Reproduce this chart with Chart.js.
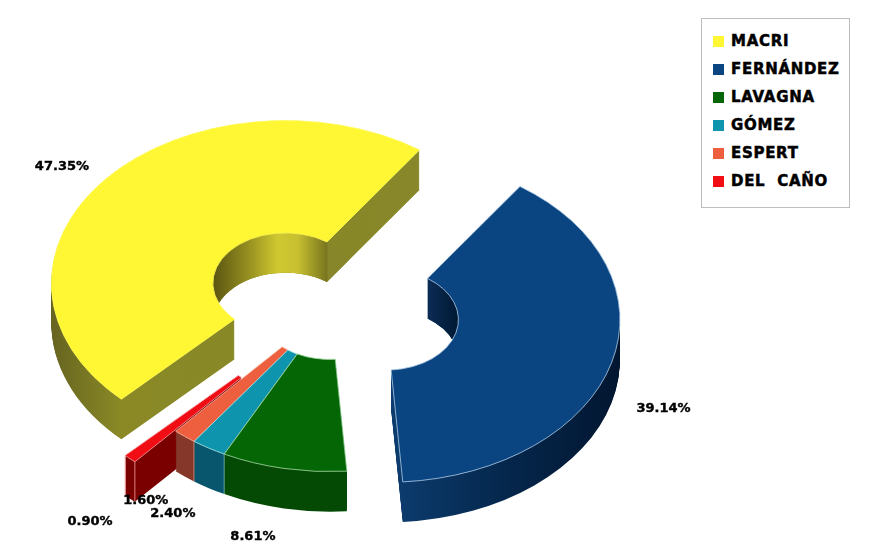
<!DOCTYPE html>
<html>
<head>
<meta charset="utf-8">
<script src="https://cdn.jsdelivr.net/npm/chart.js@4"></script>
<style>
  html, body { margin:0; padding:0; background:#fff; }
  #wrap { position:relative; width:874px; height:557px; overflow:hidden; }
  #legend { position:absolute; left:701px; top:18px; width:147px; height:188px; border:1px solid #bdbdbd; background:#fff; }
  .row { position:absolute; left:11px; height:16px; font:bold 15px "DejaVu Sans", sans-serif; line-height:16px; letter-spacing:.7px; color:#000; white-space:pre; -webkit-text-stroke:.5px #000; }
  .row i { display:inline-block; width:11px; height:11px; margin-right:7px; vertical-align:-1px; }
</style>
</head>
<body>
<div id="wrap">
  <canvas id="chart" width="874" height="557"></canvas>
  <div id="legend"></div>
</div>
<script>
const categories = ['MACRI', 'FERNÁNDEZ', 'LAVAGNA', 'GÓMEZ', 'ESPERT', 'DEL  CAÑO'];
const shares = [47.35, 39.14, 8.61, 2.40, 1.60, 0.90];

const faceColors = ['#fff733', '#0a4582', '#056605', '#0e95ad', '#ee5f3f', '#f00d14'];
const edgeColors = ['#fff955', '#a9c6e2', '#9fd6a0', '#a8e0e0', '#f5b09a', '#f59a9a'];
// wall shading, stops run across the slice's own width
const wallStops = [
  [[0, '#666420'], [.146, '#8a8926'], [1, '#87862a']],
  [[0, '#0d3e72'], [.53, '#0c3b6d'], [.74, '#05284e'], [1, '#021630']],
  [[0, '#044a04'], [1, '#044a04']],
  [[0, '#07566e'], [1, '#07566e']],
  [[0, '#85382a'], [1, '#85382a']],
  [[0, '#7a0000'], [1, '#7a0000']]
];
// wall of the hole, only the two big slices show one
const holeStops = [
  [[.346, '#5a5510'], [.419, '#948e20'], [.483, '#cfc830'], [.526, '#c8c030'], [.588, '#7a7620'], [.592, '#87862a'], [1, '#87862a']],
  [[.588, '#0c2c55'], [.65, '#001a35']]
];
const explode = [58, 58, 0, 0, 0, 60];
const labelNudge = [[-43.5, -13], [52, 46], [-31, 68], [-36, 65], [-39, 64], [-40, 63]];
const drawOrder = [0, 1, 5, 4, 3, 2];

const SQUASH = 0.695;
const DEPTH = 40;

function makeGrad(ctx, arc, stops) {
  const r = arc.outerRadius;
  const grad = ctx.createLinearGradient(arc.x - r, 0, arc.x + r, 0);
  stops.forEach(s => grad.addColorStop(s[0], s[1]));
  return grad;
}

function stackWalls(ctx, arc, orig, fill) {
  arc.options = Object.assign({}, orig, { backgroundColor: fill, borderWidth: 0 });
  for (let d = DEPTH; d > 0; d--) {
    ctx.save();
    ctx.translate(0, d / SQUASH);
    arc.draw(ctx);
    ctx.restore();
  }
  arc.options = orig;
}

function drawSlice(ctx, arc, i) {
  const mid = (arc.startAngle + arc.endAngle) / 2;
  const orig = arc.options;
  const r = arc.outerRadius;
  ctx.save();
  ctx.translate(Math.cos(mid) * explode[i], Math.sin(mid) * explode[i]);

  // walls: stack of copies going down, the top face goes over them
  stackWalls(ctx, arc, orig, makeGrad(ctx, arc, wallStops[i]));
  if (holeStops[i]) {
    ctx.save();
    ctx.beginPath();
    ctx.arc(arc.x, arc.y, arc.innerRadius, 0, Math.PI * 2);
    ctx.clip();
    stackWalls(ctx, arc, orig, makeGrad(ctx, arc, holeStops[i]));
    ctx.restore();
  }

  // light seam down the wall at the slice's corners
  if (i >= 3) {
    const a = arc.endAngle;
    const px = arc.x + Math.cos(a) * r, py = arc.y + Math.sin(a) * r;
    const b = arc.startAngle;
    const qx = arc.x + Math.cos(b) * r, qy = arc.y + Math.sin(b) * r;
    ctx.strokeStyle = edgeColors[i];
    ctx.lineWidth = 1;
    ctx.beginPath();
    ctx.moveTo(qx, qy); ctx.lineTo(qx, qy + DEPTH / SQUASH);
    if (i === 5) { ctx.moveTo(px, py); ctx.lineTo(px, py + DEPTH / SQUASH); }
    ctx.stroke();
  }

  arc.draw(ctx);
  ctx.restore();
}

const pie3d = {
  id: 'pie3d',
  beforeDatasetDraw() { return false; },
  afterDatasetsDraw(chart) {
    const ctx = chart.ctx;
    const arcs = chart.getDatasetMeta(0).data;
    const cy = arcs[0].y;

    ctx.save();
    ctx.translate(0, cy);
    ctx.scale(1, SQUASH);
    ctx.translate(0, -cy);
    drawOrder.forEach(i => drawSlice(ctx, arcs[i], i));
    ctx.restore();

    ctx.save();
    ctx.font = 'bold 13px "DejaVu Sans", sans-serif';
    ctx.fillStyle = '#000';
    ctx.strokeStyle = '#000';
    ctx.lineWidth = .4;
    ctx.textAlign = 'center';
    ctx.textBaseline = 'middle';
    arcs.forEach((arc, i) => {
      const mid = (arc.startAngle + arc.endAngle) / 2;
      const rad = arc.outerRadius + explode[i];
      const x = arc.x + Math.cos(mid) * rad + labelNudge[i][0];
      const y = cy + Math.sin(mid) * rad * SQUASH + labelNudge[i][1];
      const text = shares[i].toFixed(2) + '%';
      ctx.fillText(text, x, y);
      ctx.strokeText(text, x, y);
    });
    ctx.restore();
  }
};

new Chart(document.getElementById('chart'), {
  type: 'doughnut',
  data: {
    labels: categories,
    datasets: [{ data: shares, backgroundColor: faceColors, borderColor: edgeColors, borderWidth: 1 }]
  },
  options: {
    responsive: false,
    animation: false,
    rotation: 224.5,
    radius: 234,
    cutout: '31%',
    layout: { padding: { right: 214, top: 61 } },
    plugins: { legend: { display: false }, tooltip: { enabled: false } }
  },
  plugins: [pie3d]
});

const legend = document.getElementById('legend');
categories.forEach((name, i) => {
  const row = document.createElement('div');
  row.className = 'row';
  row.style.top = (14 + i * 28) + 'px';
  row.innerHTML = `<i style="background:${faceColors[i]}"></i>${name}`;
  legend.appendChild(row);
});
</script>
</body>
</html>
